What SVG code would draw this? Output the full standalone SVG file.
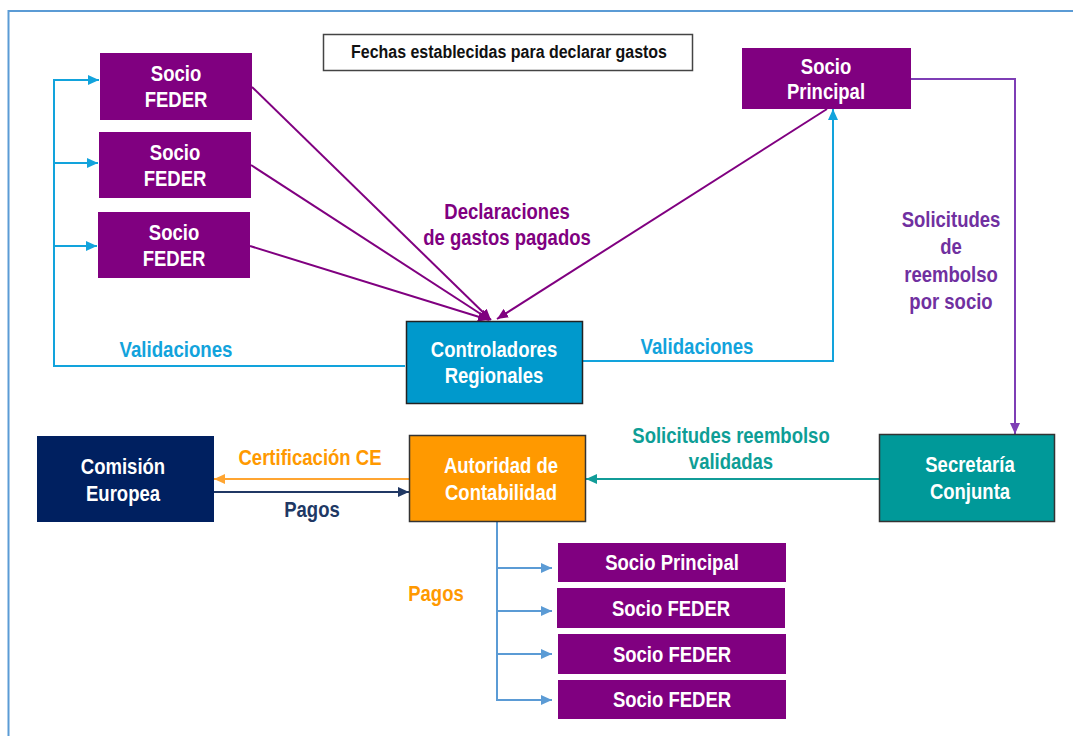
<svg xmlns="http://www.w3.org/2000/svg" width="1073" height="736" viewBox="0 0 1073 736">
<style>
.t{font-family:"Liberation Sans Narrow","Liberation Sans",Arial,sans-serif;font-weight:bold;text-anchor:middle}
.n{font-size:22.5px;fill:#fff}
.lbl{font-size:22.5px}
.c{fill:none;stroke-width:2}
</style>
<defs>
<marker id="aP" markerUnits="userSpaceOnUse" markerWidth="12" markerHeight="10" refX="11" refY="5" orient="auto"><path d="M0,0 L11,5 L0,10 z" fill="#800080"/></marker>
<marker id="aB" markerUnits="userSpaceOnUse" markerWidth="12" markerHeight="10" refX="11" refY="5" orient="auto"><path d="M0,0 L11,5 L0,10 z" fill="#12A3DC"/></marker>
<marker id="aV" markerUnits="userSpaceOnUse" markerWidth="12" markerHeight="10" refX="11" refY="5" orient="auto"><path d="M0,0 L11,5 L0,10 z" fill="#7E3EB5"/></marker>
<marker id="aT" markerUnits="userSpaceOnUse" markerWidth="12" markerHeight="10" refX="11" refY="5" orient="auto"><path d="M0,0 L11,5 L0,10 z" fill="#119C98"/></marker>
<marker id="aO" markerUnits="userSpaceOnUse" markerWidth="12" markerHeight="10" refX="11" refY="5" orient="auto"><path d="M0,0 L11,5 L0,10 z" fill="#FFA531"/></marker>
<marker id="aN" markerUnits="userSpaceOnUse" markerWidth="12" markerHeight="10" refX="11" refY="5" orient="auto"><path d="M0,0 L11,5 L0,10 z" fill="#203864"/></marker>
<marker id="aL" markerUnits="userSpaceOnUse" markerWidth="12" markerHeight="10" refX="11" refY="5" orient="auto"><path d="M0,0 L11,5 L0,10 z" fill="#5B9BD5"/></marker>
</defs>
<rect x="0" y="0" width="1073" height="736" fill="#fff"/>
<rect x="8.5" y="11" width="1200" height="800" fill="none" stroke="#5B9BD5" stroke-width="2"/>

<g id="title">
<rect x="323.5" y="34.5" width="369" height="36" fill="#fff" stroke="#444" stroke-width="1.5"/>
<text class="t" x="509" y="58" font-size="18" fill="#111" textLength="316" lengthAdjust="spacingAndGlyphs">Fechas establecidas para declarar gastos</text>
</g>

<g id="connectors">
<g stroke="#800080" class="c">
<line x1="252" y1="87" x2="491" y2="320" marker-end="url(#aP)"/>
<line x1="251" y1="165" x2="490" y2="320" marker-end="url(#aP)"/>
<line x1="250" y1="246" x2="489" y2="320" marker-end="url(#aP)"/>
<line x1="827" y1="109" x2="497" y2="319" marker-end="url(#aP)"/>
</g>
<g stroke="#12A3DC" class="c">
<polyline points="405,366 54,366 54,80 99,80" marker-end="url(#aB)"/>
<line x1="54" y1="163" x2="98" y2="163" marker-end="url(#aB)"/>
<line x1="54" y1="246" x2="97" y2="246" marker-end="url(#aB)"/>
<polyline points="583,361 833,361 833,109" marker-end="url(#aB)"/>
</g>
<polyline points="911,79 1015,79 1015,434" stroke="#7E3EB5" class="c" marker-end="url(#aV)"/>
<line x1="879" y1="479" x2="586" y2="479" stroke="#119C98" class="c" marker-end="url(#aT)"/>
<line x1="409" y1="479" x2="214" y2="479" stroke="#FFA531" class="c" marker-end="url(#aO)"/>
<line x1="214" y1="492" x2="409" y2="492" stroke="#203864" class="c" marker-end="url(#aN)"/>
<g stroke="#5B9BD5" class="c" stroke-width="1.5">
<polyline points="497,522 497,700 552,700" marker-end="url(#aL)"/>
<line x1="497" y1="568" x2="552" y2="568" marker-end="url(#aL)"/>
<line x1="497" y1="611" x2="552" y2="611" marker-end="url(#aL)"/>
<line x1="497" y1="654" x2="552" y2="654" marker-end="url(#aL)"/>
</g>
<text class="t lbl" x="507" y="219" fill="#800080" textLength="125.4" lengthAdjust="spacingAndGlyphs">Declaraciones</text>
<text class="t lbl" x="507" y="245" fill="#800080" textLength="167.6" lengthAdjust="spacingAndGlyphs">de gastos pagados</text>
<text class="t lbl" x="176" y="357" fill="#12A3DC" textLength="113" lengthAdjust="spacingAndGlyphs">Validaciones</text>
<text class="t lbl" x="697" y="354" fill="#12A3DC" textLength="113" lengthAdjust="spacingAndGlyphs">Validaciones</text>
<text class="t lbl" x="951" y="227" fill="#7030A0" textLength="98.7" lengthAdjust="spacingAndGlyphs">Solicitudes</text>
<text class="t lbl" x="951" y="254" fill="#7030A0" textLength="21.6" lengthAdjust="spacingAndGlyphs">de</text>
<text class="t lbl" x="951" y="282" fill="#7030A0" textLength="93.6" lengthAdjust="spacingAndGlyphs">reembolso</text>
<text class="t lbl" x="951" y="309" fill="#7030A0" textLength="83.3" lengthAdjust="spacingAndGlyphs">por socio</text>
<text class="t lbl" x="731" y="443" fill="#0E9E96" textLength="197.4" lengthAdjust="spacingAndGlyphs">Solicitudes reembolso</text>
<text class="t lbl" x="731" y="469" fill="#0E9E96" textLength="84.3" lengthAdjust="spacingAndGlyphs">validadas</text>
<text class="t lbl" x="310" y="465" fill="#FF9900" textLength="143" lengthAdjust="spacingAndGlyphs">Certificación CE</text>
<text class="t lbl" x="312" y="517" fill="#203864" textLength="55.5" lengthAdjust="spacingAndGlyphs">Pagos</text>
<text class="t lbl" x="436" y="601" fill="#FF9900" textLength="55.5" lengthAdjust="spacingAndGlyphs">Pagos</text>
</g>

<g id="feder1"><rect x="100" y="53" width="152" height="67" fill="#800080"/><text class="t n" x="176" y="81" textLength="50.4" lengthAdjust="spacingAndGlyphs">Socio</text><text class="t n" x="176" y="107" textLength="62.7" lengthAdjust="spacingAndGlyphs">FEDER</text></g>
<g id="feder2"><rect x="99" y="132" width="152" height="66" fill="#800080"/><text class="t n" x="175" y="160" textLength="50.4" lengthAdjust="spacingAndGlyphs">Socio</text><text class="t n" x="175" y="186" textLength="62.7" lengthAdjust="spacingAndGlyphs">FEDER</text></g>
<g id="feder3"><rect x="98" y="212" width="152" height="66" fill="#800080"/><text class="t n" x="174" y="240" textLength="50.4" lengthAdjust="spacingAndGlyphs">Socio</text><text class="t n" x="174" y="266" textLength="62.7" lengthAdjust="spacingAndGlyphs">FEDER</text></g>
<g id="principal"><rect x="742" y="48" width="169" height="61" fill="#800080"/><text class="t n" x="826" y="74" textLength="50.4" lengthAdjust="spacingAndGlyphs">Socio</text><text class="t n" x="826" y="99" textLength="78.1" lengthAdjust="spacingAndGlyphs">Principal</text></g>
<g id="controladores"><rect x="406.5" y="321.5" width="176" height="82" fill="#0099CC" stroke="#222" stroke-width="1.5"/><text class="t n" x="494" y="357" textLength="126.4" lengthAdjust="spacingAndGlyphs">Controladores</text><text class="t n" x="494" y="383" textLength="98.7" lengthAdjust="spacingAndGlyphs">Regionales</text></g>
<g id="comision"><rect x="37" y="436" width="177" height="86" fill="#002060"/><text class="t n" x="123" y="474" textLength="84.3" lengthAdjust="spacingAndGlyphs">Comisión</text><text class="t n" x="123" y="501" textLength="74" lengthAdjust="spacingAndGlyphs">Europea</text></g>
<g id="autoridad"><rect x="409.5" y="435.5" width="176" height="86" fill="#FF9900" stroke="#333" stroke-width="1.5"/><text class="t n" x="501" y="473" textLength="114.1" lengthAdjust="spacingAndGlyphs">Autoridad de</text><text class="t n" x="501" y="500" textLength="112" lengthAdjust="spacingAndGlyphs">Contabilidad</text></g>
<g id="secretaria"><rect x="879.5" y="434.5" width="175" height="87" fill="#009999" stroke="#333" stroke-width="1.5"/><text class="t n" x="970" y="472" textLength="89.5" lengthAdjust="spacingAndGlyphs">Secretaría</text><text class="t n" x="970" y="499" textLength="80.2" lengthAdjust="spacingAndGlyphs">Conjunta</text></g>
<g id="pago-principal"><rect x="558" y="543" width="228" height="39" fill="#800080"/><text class="t n" x="672" y="570" textLength="133.7" lengthAdjust="spacingAndGlyphs">Socio Principal</text></g>
<g id="pago-feder1"><rect x="557" y="588" width="228" height="40" fill="#800080"/><text class="t n" x="671" y="616" textLength="118.2" lengthAdjust="spacingAndGlyphs">Socio FEDER</text></g>
<g id="pago-feder2"><rect x="558" y="634" width="228" height="40" fill="#800080"/><text class="t n" x="672" y="662" textLength="118.2" lengthAdjust="spacingAndGlyphs">Socio FEDER</text></g>
<g id="pago-feder3"><rect x="558" y="680" width="228" height="39" fill="#800080"/><text class="t n" x="672" y="707" textLength="118.2" lengthAdjust="spacingAndGlyphs">Socio FEDER</text></g>
</svg>
